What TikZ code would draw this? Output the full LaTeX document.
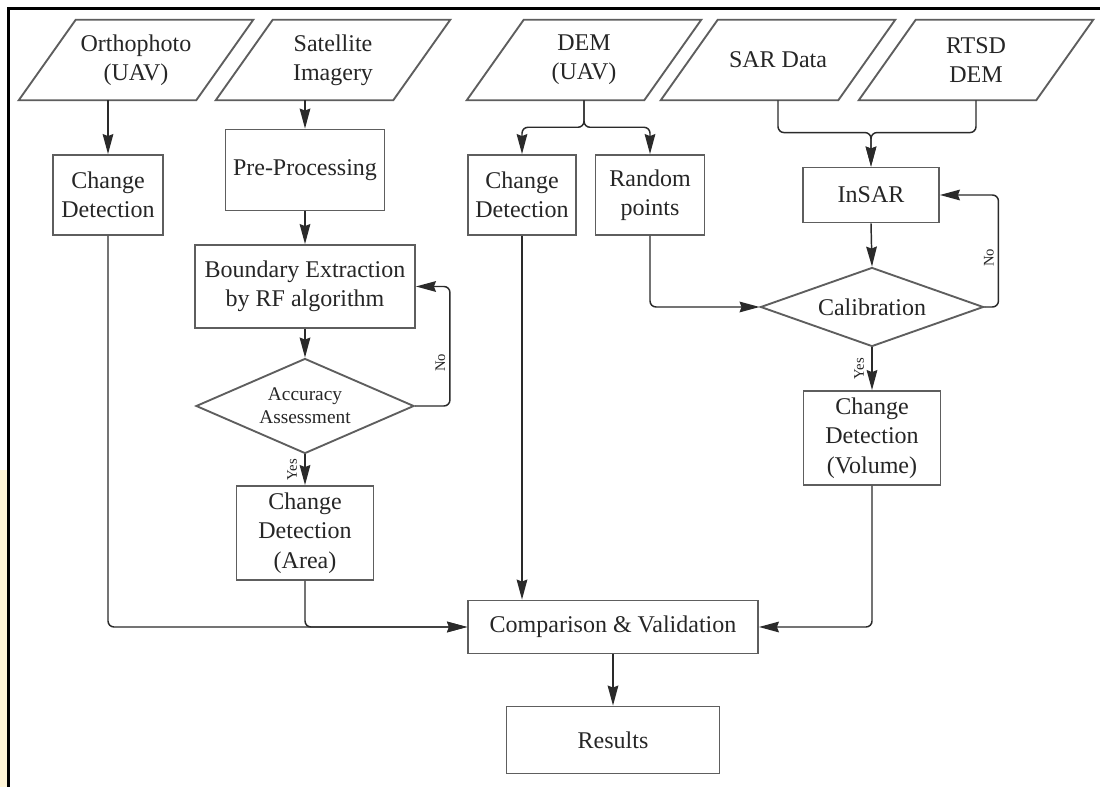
\documentclass[tikz,border=0pt]{standalone}
\usepackage{fontspec}
\setmainfont{Liberation Serif}
\usetikzlibrary{shapes.geometric,arrows.meta,calc}

\definecolor{boxline}{HTML}{5E5E5E}
\definecolor{wire}{HTML}{2A2A2A}
\definecolor{ink}{HTML}{262626}
\definecolor{cream}{HTML}{FFF5D6}

% one drawing unit = one pixel of the 1100 x 787 canvas
\def\pxu{0.75pt}

\tikzset{
  mainfont/.style={font=\fontsize{18}{22}\selectfont},
  inbox/.style={mainfont, text=ink, align=center, inner sep=0pt,
    minimum width=177*\pxu, minimum height=80*\pxu},
  inframe/.style={draw=boxline, line width=1.4pt, line join=miter},
  box/.style={mainfont, draw=boxline, line width=1.4pt, fill=white,
    text=ink, align=center, inner sep=1pt},
  decision/.style={diamond, draw=boxline, line width=1.4pt, fill=white,
    text=ink, align=center, inner sep=0pt},
  arr/.style={draw=wire, line width=1.1pt, rounded corners=4.5pt,
    -{Stealth[length=15pt, width=8pt, inset=1.5pt]}},
  lbl/.style={font=\fontsize{11}{13}\selectfont, text=ink, inner sep=3pt},
  yeslbl/.style={lbl, inner sep=5.5pt},
}

% slanted frame of an input (data) node
\newcommand\slantbox[1]{%
  \draw[inframe] ([xshift=-28.5*\pxu]#1.south west) -- ([xshift=-28.5*\pxu]#1.south east)
    -- ([xshift=28.5*\pxu]#1.north east) -- ([xshift=28.5*\pxu]#1.north west) -- cycle;}

\begin{document}
\begin{tikzpicture}[x=0.75pt, y=-0.75pt]
  \fill[white] (0,0) rectangle (1100,787);
  \useasboundingbox (0,0) rectangle (1100,787);
  \fill[cream] (0,470) rectangle (7,787);
  \draw[black, line width=2.2pt] (8.5,787) -- (8.5,8.5) -- (1100,8.5);

  % data sources
  \node[inbox] (ortho) at (136,60) {Orthophoto\\(UAV)};
  \node[inbox] (sat)   at (333,60) {Satellite\\Imagery};
  \node[inbox] (dem)   at (584,60) {DEM\\(UAV)};
  \node[inbox] (sar)   at (778,60) {SAR Data};
  \node[inbox] (rtsd)  at (976,60) {RTSD\\DEM};
  \foreach \n in {ortho,sat,dem,sar,rtsd} {\slantbox{\n}}

  % processing steps
  \node[box, minimum width=110*\pxu, minimum height=80*\pxu] (cdo) at (108,195) {Change\\Detection};
  \node[box, minimum width=159*\pxu, minimum height=81*\pxu] (pre) at (305,170) {Pre-Processing};
  \node[box, minimum width=220*\pxu, minimum height=83*\pxu] (bnd) at (305,286.5) {Boundary Extraction\\by RF algorithm};
  \node[decision, aspect=2.3, minimum width=218*\pxu, minimum height=95*\pxu,
        font=\fontsize{14.5}{17}\selectfont] (acc) at (305,406) {Accuracy\\Assessment};
  \node[box, minimum width=137*\pxu, minimum height=94*\pxu] (cda) at (305,533) {Change\\Detection\\(Area)};

  \node[box, minimum width=108*\pxu, minimum height=80*\pxu] (cdd) at (522,195) {Change\\Detection};
  \node[box, minimum width=109*\pxu, minimum height=80*\pxu] (rnd) at (650,195) {Random\\points};

  \node[box, minimum width=136*\pxu, minimum height=55*\pxu] (insar) at (871,195) {InSAR};
  \node[decision, aspect=2.8, minimum width=223*\pxu, minimum height=79*\pxu, mainfont] (cal) at (872,307) {Calibration};
  \node[box, minimum width=137*\pxu, minimum height=94*\pxu] (cdv) at (872,438) {Change\\Detection\\(Volume)};

  \node[box, minimum width=290*\pxu, minimum height=53*\pxu] (cmp) at (613,627) {Comparison \& Validation};
  \node[box, minimum width=213*\pxu, minimum height=67*\pxu] (res) at (613,740) {Results};

  % branch points
  \coordinate (demsplit) at ($(dem.south)+(0,27)$);
  \coordinate (insplit) at ($(insar.north)+(0,-34)$);

  % connectors
  \draw[arr] (cdo.north |- ortho.south) -- (cdo.north);
  \draw[arr] (pre.north |- sat.south) -- (pre.north);
  \draw[arr] (pre.south) -- (bnd.north);
  \draw[arr] (bnd.south) -- (acc.north);
  \draw[arr] (acc.south) -- node[yeslbl, rotate=90, anchor=south] (yes1) {Yes} (cda.north);
  \draw[arr] (acc.east) -- ++(35,0) |- (bnd.east)
     node[lbl, rotate=90, anchor=south, pos=0.18] (no1) {No};

  \draw[arr] (dem.south) -- (demsplit) -| (cdd.north);
  \draw[arr] (dem.south) -- (demsplit) -| (rnd.north);

  \draw[arr] (sar.south) |- (insplit) -- (insar.north);
  \draw[arr] (rtsd.south) |- (insplit) -- (insar.north);
  \draw[arr] (insar.south) -- (cal.north);
  \draw[arr] (cal.east) -- ++(14,0) |- (insar.east)
     node[lbl, rotate=90, anchor=south, pos=0.22] (no2) {No};
  \draw[arr] (cal.south) -- node[yeslbl, rotate=90, anchor=south] (yes2) {Yes} (cdv.north);
  \draw[arr] (rnd.south) |- (cal.west);

  \draw[arr] (cdd.south) -- (cdd.south |- cmp.north);
  \draw[arr] (cdo.south) |- (cmp.west);
  \draw[arr] (cda.south) |- (cmp.west);
  \draw[arr] (cdv.south) |- (cmp.east);
  \draw[arr] (cmp.south) -- (res.north);
\end{tikzpicture}
\end{document}
